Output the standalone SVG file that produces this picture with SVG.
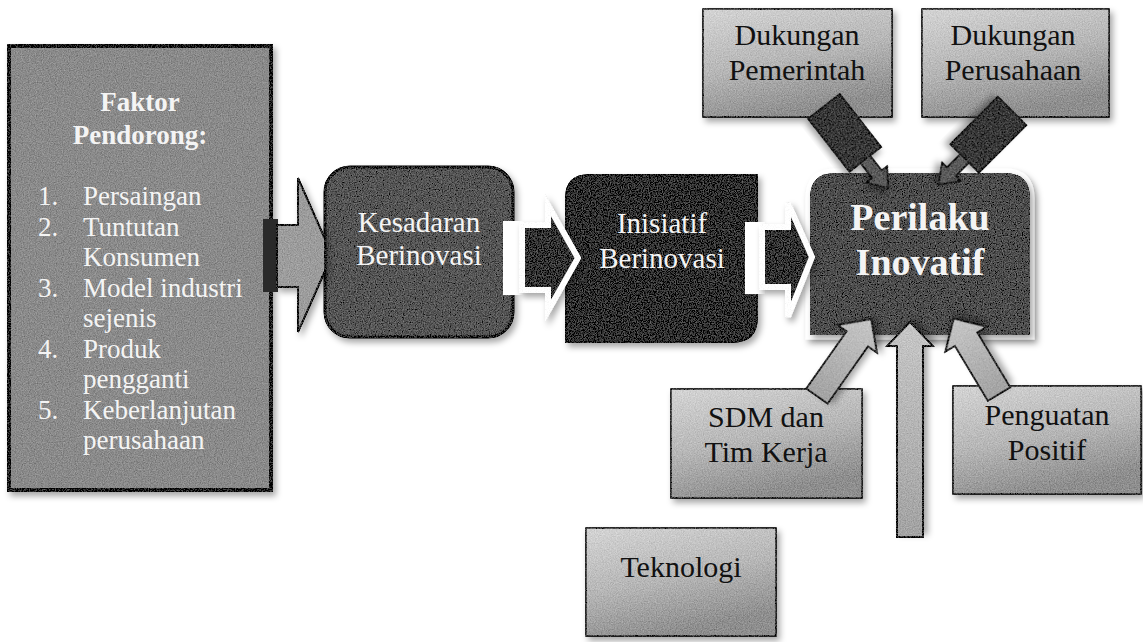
<svg xmlns="http://www.w3.org/2000/svg" width="1143" height="642" viewBox="0 0 1143 642">
<defs>
<style>
.t{font-family:"Liberation Serif","Times New Roman",serif;}
.w{fill:#f4f4f4;}
.k{fill:#111;}
.box{stroke:#2a2a2a;stroke-width:1.5;}
.lg{fill:url(#lightG);}
.larr{fill:url(#arrG);stroke:#1e1e1e;stroke-width:1.8;stroke-linejoin:miter;}
.darr{fill:#363636;stroke:#0e0e0e;stroke-width:2;}
.dneck{fill:#5a5a5a;stroke:#0e0e0e;stroke-width:1.6;}
.warr{fill:#333;stroke:#fff;stroke-width:6;stroke-linejoin:miter;}
</style>
<linearGradient id="lightG" x1="0" y1="0" x2="0.35" y2="1">
<stop offset="0" stop-color="#d4d4d4"/>
<stop offset="0.55" stop-color="#b6b6b6"/>
<stop offset="1" stop-color="#8e8e8e"/>
</linearGradient>
<linearGradient id="arrG" x1="0" y1="0" x2="1" y2="0">
<stop offset="0" stop-color="#a2a2a2"/>
<stop offset="1" stop-color="#c6c6c6"/>
</linearGradient>
<filter id="sh" x="-15%" y="-15%" width="140%" height="140%">
<feDropShadow dx="3" dy="4" stdDeviation="3" flood-color="#000" flood-opacity="0.35"/>
</filter>
<filter id="gs" x="-15%" y="-15%" width="140%" height="140%">
<feTurbulence type="fractalNoise" baseFrequency="0.85" numOctaves="2" seed="4" result="n"/>
<feColorMatrix in="n" type="matrix" values="1 0 0 0 0  1 0 0 0 0  1 0 0 0 0  0 0 0 0 1" result="g"/>
<feComposite in="g" in2="SourceAlpha" operator="in" result="gi"/>
<feComposite in="SourceGraphic" in2="gi" operator="arithmetic" k1="0" k2="1" k3="0.32" k4="-0.16" result="tex"/>
<feDropShadow in="tex" dx="3" dy="4" stdDeviation="3" flood-color="#000" flood-opacity="0.35"/>
</filter>
</defs>
<rect width="1143" height="642" fill="#fff"/>

<g id="faktor-pendorong">
<rect x="9" y="46" width="262" height="444" fill="#8a8a8a" stroke="#111" stroke-width="4" filter="url(#gs)"/>
<text class="t w" x="140" y="111" font-size="27" font-weight="bold" text-anchor="middle">Faktor</text>
<text class="t w" x="140" y="144" font-size="27" font-weight="bold" text-anchor="middle">Pendorong:</text>
<g class="t w" font-size="27">
<text x="38" y="205">1.</text><text x="83" y="205">Persaingan</text>
<text x="38" y="235.5">2.</text><text x="83" y="235.5">Tuntutan</text>
<text x="83" y="266">Konsumen</text>
<text x="38" y="296.5">3.</text><text x="83" y="296.5">Model industri</text>
<text x="83" y="327">sejenis</text>
<text x="38" y="357.5">4.</text><text x="83" y="357.5">Produk</text>
<text x="83" y="388">pengganti</text>
<text x="38" y="418.5">5.</text><text x="83" y="418.5">Keberlanjutan</text>
<text x="83" y="449">perusahaan</text>
</g>
</g>

<g id="kesadaran">
<rect x="325" y="167" width="188" height="170" rx="25" fill="#555" stroke="#1a1a1a" stroke-width="3" filter="url(#gs)"/>
<text class="t w" x="419" y="232" font-size="29" text-anchor="middle">Kesadaran</text>
<text class="t w" x="419" y="265" font-size="29" text-anchor="middle">Berinovasi</text>
</g>

<g id="inisiatif">
<path d="M566,342 L566,198 Q566,175 589,175 L757,175 L757,317 Q757,342 732,342 Z" fill="#2f2f2f" stroke="#151515" stroke-width="2" filter="url(#gs)"/>
<text class="t w" x="662" y="233" font-size="29" text-anchor="middle">Inisiatif</text>
<text class="t w" x="662" y="268" font-size="29" text-anchor="middle">Berinovasi</text>
</g>

<g id="perilaku">
<path d="M810,335 L810,198 Q810,173 835,173 L1005,173 Q1030,173 1030,198 L1030,335 Z" fill="#fff" stroke="#fff" stroke-width="9" filter="url(#sh)"/>
<path d="M810,335 L810,198 Q810,173 835,173 L1005,173 Q1030,173 1030,198 L1030,335 Z" fill="#4d4d4d" filter="url(#gs)"/>
<text class="t w" x="920" y="230" font-size="38" font-weight="bold" text-anchor="middle">Perilaku</text>
<text class="t w" x="920" y="275" font-size="38" font-weight="bold" text-anchor="middle">Inovatif</text>
</g>

<g id="dukungan-pemerintah">
<rect class="box lg" x="703" y="9" width="189" height="108" filter="url(#gs)"/>
<text class="t k" x="797" y="45" font-size="30" text-anchor="middle">Dukungan</text>
<text class="t k" x="797" y="80" font-size="30" text-anchor="middle">Pemerintah</text>
</g>

<g id="dukungan-perusahaan">
<rect class="box lg" x="922" y="9" width="187" height="108" filter="url(#gs)"/>
<text class="t k" x="1013" y="45" font-size="30" text-anchor="middle">Dukungan</text>
<text class="t k" x="1013" y="80" font-size="30" text-anchor="middle">Perusahaan</text>
</g>

<g id="sdm">
<rect class="box lg" x="671" y="389" width="191" height="109" filter="url(#gs)"/>
<text class="t k" x="766" y="427" font-size="30" text-anchor="middle">SDM dan</text>
<text class="t k" x="766" y="462" font-size="30" text-anchor="middle">Tim Kerja</text>
</g>

<g id="penguatan">
<rect class="box lg" x="953" y="386" width="188" height="108" filter="url(#gs)"/>
<text class="t k" x="1047" y="425" font-size="30" text-anchor="middle">Penguatan</text>
<text class="t k" x="1047" y="460" font-size="30" text-anchor="middle">Positif</text>
</g>

<g id="teknologi">
<rect class="box lg" x="586" y="528" width="190" height="108" filter="url(#gs)"/>
<text class="t k" x="681" y="577" font-size="30" text-anchor="middle">Teknologi</text>
</g>

<g id="connectors">
<!-- Faktor -> Kesadaran -->
<rect x="263" y="219" width="15" height="73" fill="#2a2a2a"/>
<polygon points="277,225 298,225 298,178 325,239 325,271 298,332 298,287 277,287" fill="#9c9c9c" stroke="#1a1a1a" stroke-width="2" filter="url(#gs)"/>
<!-- Kesadaran -> Inisiatif -->
<rect x="503" y="221" width="20" height="74" fill="#fff"/>
<polygon class="warr" points="522,225 548,225 548,205 578,258 548,311 548,290 522,290" filter="url(#gs)"/>
<!-- Inisiatif -> Perilaku -->
<rect x="745" y="222" width="20" height="72" fill="#fff"/>
<polygon class="warr" points="762,227 788,227 788,203 812,257 788,317 788,287 762,287" filter="url(#gs)"/>
<!-- Dukungan Pemerintah -> Perilaku -->
<g transform="translate(824,106.5) rotate(52)" filter="url(#gs)">
<polygon class="dneck" points="62,-6 86,-6 86,-13 104,0 86,13 86,6 62,6"/>
<rect class="darr" x="0" y="-20" width="67" height="40"/>
</g>
<!-- Dukungan Perusahaan -> Perilaku -->
<g transform="translate(1012,111) rotate(135)" filter="url(#gs)">
<polygon class="dneck" points="62,-6 86,-6 86,-13 104,0 86,13 86,6 62,6"/>
<rect class="darr" x="0" y="-20" width="67" height="40"/>
</g>
<!-- SDM -> Perilaku -->
<polygon class="larr" transform="translate(817,396) rotate(-54.8)" points="0,-13 70,-13 70,-24 94,0 70,24 70,13 0,13" filter="url(#gs)"/>
<!-- Teknologi -> Perilaku -->
<polygon class="larr" transform="translate(910,537) rotate(-90)" points="0,-13 191,-13 191,-23 215,0 191,23 191,13 0,13" filter="url(#gs)"/>
<!-- Penguatan -> Perilaku -->
<polygon class="larr" transform="translate(999,394) rotate(-121)" points="0,-13 64,-13 64,-24 88,0 64,24 64,13 0,13" filter="url(#gs)"/>
</g>
</svg>
